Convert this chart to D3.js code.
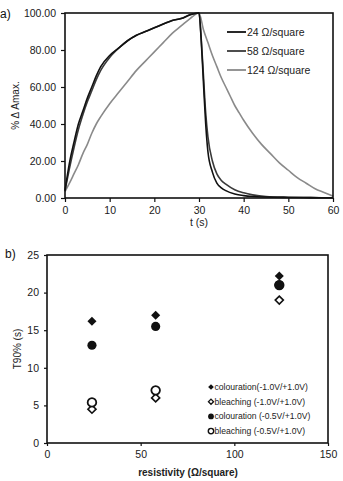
<!DOCTYPE html>
<html lang="en">
<head>
  <meta charset="UTF-8">
  <title>Switching kinetics</title>
  <script src="https://d3js.org/d3.v7.min.js"></script>
  <style>
    body { margin: 0; background: #fff; font-family: "Liberation Sans", Arial, sans-serif; }
    svg { display: block; }
    .tick text { font-family: "Liberation Sans", Arial, sans-serif; fill: #1a1a1a; }
  </style>
</head>
<body>
<svg id="chart" width="343" height="481"></svg>
<script>
  // ---- panel a) : % delta Amax vs time ----
  const riseTimes = [0, 1, 2, 3, 4, 5, 6, 7, 8, 10, 12, 14, 16, 18, 20, 22, 24, 26, 28, 30];
  const rise24  = [4, 19, 30, 40, 47, 54, 60, 66, 71, 77, 81, 85, 88, 90, 92, 94, 96, 97, 99, 100];
  const rise58  = [4, 16, 27, 37, 45, 52, 58, 64, 69, 76, 81, 85, 88, 90, 92, 94, 96, 97, 99, 100];
  const rise124 = [3.5, 8, 13, 18, 24, 29, 35, 40, 44, 51, 57, 63, 69, 74, 79, 84, 89, 93, 97, 100];

  const fastDecayTimes = [30, 30.5, 31, 31.5, 32, 33, 34, 35, 36, 38, 40, 42, 45, 50, 55, 60];
  const decay24  = [100, 85, 62, 40, 25, 14, 8, 5.5, 4, 2.2, 1.3, 0.8, 0.5, 0.3, 0.2, 0.1];
  const decay58  = [100, 86, 66, 46, 33, 20, 13, 9.5, 7.5, 4.5, 2.8, 1.7, 0.8, 0.4, 0.2, 0.1];
  const slowDecayTimes = [30, 31, 32, 33, 34, 35, 36, 37, 38, 39, 40, 42, 44, 46, 48, 50, 52, 54, 56, 58, 60];
  const decay124 = [100, 91, 84, 77, 71, 65, 60, 55, 50, 46, 42, 35, 29, 24, 19, 15, 11, 8, 5, 3, 1];

  const seriesNames = ["24 \u03A9/square", "58 \u03A9/square", "124 \u03A9/square"];
  const seriesColors = ["#111", "#3a3a3a", "#8a8a8a"];

  // ---- panel b) : T90% vs resistivity ----
  const resistivity = [24, 58, 124];
  const colour10 = [16.2, 17.0, 22.2];
  const bleach10 = [4.5, 6.0, 19.0];
  const colour05 = [13.0, 15.5, 21.0];
  const bleach05 = [5.4, 7.0, 21.0];
  const legendB = ["colouration(-1.0V/+1.0V)", "bleaching (-1.0V/+1.0V)",
                   "colouration (-0.5V/+1.0V)", "bleaching (-0.5V/+1.0V)"];

  const svg = d3.select("#chart");
  const font = "'Liberation Sans', Arial, sans-serif";

  // ================= panel a =================
  const ma = { left: 65, right: 333, top: 13, bottom: 198 };
  const xa = d3.scaleLinear().domain([0, 60]).range([ma.left, ma.right]);
  const ya = d3.scaleLinear().domain([0, 100]).range([ma.bottom, ma.top]);

  svg.append("g")
    .attr("transform", `translate(0,${ma.bottom})`)
    .call(d3.axisBottom(xa).tickValues([0, 10, 20, 30, 40, 50, 60]).tickSize(4).tickPadding(5))
    .call(g => g.select(".domain").remove())
    .call(g => g.selectAll("line").attr("stroke", "#111").attr("stroke-width", 1.2))
    .call(g => g.selectAll("text").attr("font-size", "10.5px"));

  svg.append("g")
    .attr("transform", `translate(${ma.left},0)`)
    .call(d3.axisLeft(ya).tickValues([0, 20, 40, 60, 80, 100]).tickFormat(d3.format(".2f")).tickSize(4).tickPadding(5))
    .call(g => g.select(".domain").remove())
    .call(g => g.selectAll("line").attr("stroke", "#111").attr("stroke-width", 1.2))
    .call(g => g.selectAll("text").attr("font-size", "10.5px"));

  const curvesA = [
    riseTimes.map((t, i) => [t, rise24[i]]).concat(fastDecayTimes.slice(1).map((t, i) => [t, decay24[i + 1]])),
    riseTimes.map((t, i) => [t, rise58[i]]).concat(fastDecayTimes.slice(1).map((t, i) => [t, decay58[i + 1]])),
    riseTimes.map((t, i) => [t, rise124[i]]).concat(slowDecayTimes.slice(1).map((t, i) => [t, decay124[i + 1]]))
  ];

  const lineA = d3.line().x(d => xa(d[0])).y(d => ya(d[1])).curve(d3.curveMonotoneX);
  [2, 1, 0].forEach(k => {
    svg.append("path")
      .attr("d", lineA(curvesA[k]))
      .attr("fill", "none")
      .attr("stroke", seriesColors[k])
      .attr("stroke-width", 1.6);
  });

  svg.append("rect")
    .attr("x", ma.left).attr("y", ma.top)
    .attr("width", ma.right - ma.left).attr("height", ma.bottom - ma.top)
    .attr("fill", "none").attr("stroke", "#111").attr("stroke-width", 1.6);

  // legend a
  seriesNames.forEach((name, i) => {
    const yy = 32 + i * 19;
    svg.append("line")
      .attr("x1", 227).attr("x2", 246).attr("y1", yy).attr("y2", yy)
      .attr("stroke", seriesColors[i]).attr("stroke-width", 1.8);
    svg.append("text")
      .attr("x", 247).attr("y", yy + 3.8)
      .attr("font-family", font).attr("font-size", "10.5px").attr("fill", "#222")
      .text(name);
  });

  svg.append("text")
    .attr("transform", `translate(19,${(ma.top + ma.bottom) / 2}) rotate(-90)`)
    .attr("text-anchor", "middle")
    .attr("font-family", font).attr("font-size", "10px").attr("fill", "#222")
    .text("% \u0394 Amax.");

  svg.append("text")
    .attr("x", (ma.left + ma.right) / 2).attr("y", 226)
    .attr("text-anchor", "middle")
    .attr("font-family", font).attr("font-size", "10.5px").attr("fill", "#222")
    .text("t (s)");

  svg.append("text")
    .attr("x", 0).attr("y", 18)
    .attr("font-family", font).attr("font-size", "12px").attr("fill", "#111")
    .text("a)");

  // ================= panel b =================
  const mb = { left: 47, right: 328, top: 255, bottom: 443 };
  const xb = d3.scaleLinear().domain([0, 150]).range([mb.left, mb.right]);
  const yb = d3.scaleLinear().domain([0, 25]).range([mb.bottom, mb.top]);

  svg.append("g")
    .attr("transform", `translate(0,${mb.bottom})`)
    .call(d3.axisBottom(xb).tickValues([0, 50, 100, 150]).tickSize(3).tickPadding(5))
    .call(g => g.select(".domain").remove())
    .call(g => g.selectAll("line").attr("stroke", "#111").attr("stroke-width", 1.2))
    .call(g => g.selectAll("text").attr("font-size", "10.5px"));

  svg.append("g")
    .attr("transform", `translate(${mb.left},0)`)
    .call(d3.axisLeft(yb).tickValues([0, 5, 10, 15, 20, 25]).tickSize(3).tickPadding(5))
    .call(g => g.select(".domain").remove())
    .call(g => g.selectAll("line").attr("stroke", "#111").attr("stroke-width", 1.2))
    .call(g => g.selectAll("text").attr("font-size", "10.5px"));

  svg.append("rect")
    .attr("x", mb.left).attr("y", mb.top)
    .attr("width", mb.right - mb.left).attr("height", mb.bottom - mb.top)
    .attr("fill", "none").attr("stroke", "#111").attr("stroke-width", 1.6);

  const diamond = d3.symbol().type(d3.symbolDiamond2);
  const circle = d3.symbol().type(d3.symbolCircle);

  const styles = [
    { values: colour10, sym: diamond, size: 52, fill: "#111", stroke: "none", sw: 0 },
    { values: bleach10, sym: diamond, size: 42, fill: "#fff", stroke: "#111", sw: 1.6 },
    { values: colour05, sym: circle, size: 66, fill: "#111", stroke: "none", sw: 0 },
    { values: bleach05, sym: circle, size: 58, fill: "#fff", stroke: "#111", sw: 1.8 }
  ];

  styles.forEach(s => {
    svg.append("g").selectAll("path")
      .data(resistivity.map((r, i) => [r, s.values[i]]))
      .join("path")
      .attr("transform", d => `translate(${xb(d[0])},${yb(d[1])})`)
      .attr("d", s.sym.size(s.size))
      .attr("fill", s.fill)
      .attr("stroke", s.stroke)
      .attr("stroke-width", s.sw);
  });
  // the filled colouration point at 124 sits on top of the open one
  svg.append("path")
    .attr("transform", `translate(${xb(resistivity[2])},${yb(colour05[2])})`)
    .attr("d", circle.size(66)).attr("fill", "#111");

  // legend b
  legendB.forEach((name, i) => {
    const yy = 387 + i * 14.7;
    const s = styles[i];
    svg.append("path")
      .attr("transform", `translate(211,${yy})`)
      .attr("d", s.sym.size(s.size * 0.4))
      .attr("fill", s.fill).attr("stroke", s.stroke).attr("stroke-width", s.sw * 0.8);
    svg.append("text")
      .attr("x", 214.5).attr("y", yy + 3)
      .attr("font-family", font).attr("font-size", "8.6px").attr("fill", "#222")
      .text(name);
  });

  svg.append("text")
    .attr("transform", `translate(21,${(mb.top + mb.bottom) / 2}) rotate(-90)`)
    .attr("text-anchor", "middle")
    .attr("font-family", font).attr("font-size", "10px").attr("fill", "#222")
    .text("T90% (s)");

  svg.append("text")
    .attr("x", 188).attr("y", 476)
    .attr("text-anchor", "middle")
    .attr("font-family", font).attr("font-size", "10px").attr("font-weight", "bold").attr("fill", "#222")
    .text("resistivity (\u03A9/square)");

  svg.append("text")
    .attr("x", 5).attr("y", 258)
    .attr("font-family", font).attr("font-size", "12px").attr("fill", "#111")
    .text("b)");
</script>
</body>
</html>
